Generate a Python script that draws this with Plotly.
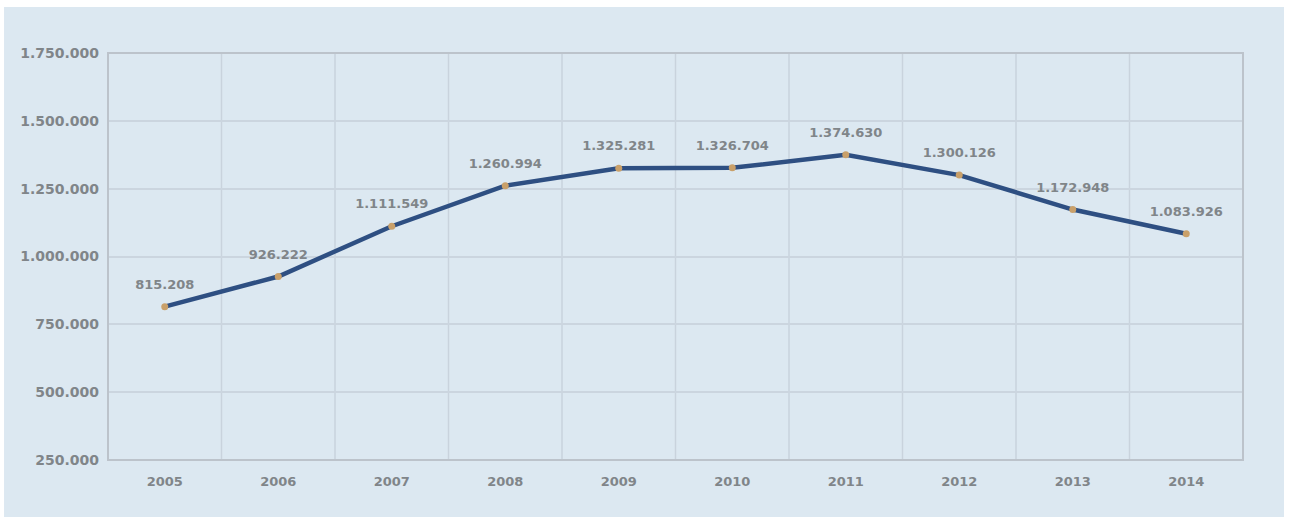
import plotly.graph_objects as go

# Yearly totals, 2005-2014
years = ["2005", "2006", "2007", "2008", "2009", "2010", "2011", "2012", "2013", "2014"]
values = [815208, 926222, 1111549, 1260994, 1325281, 1326704, 1374630, 1300126, 1172948, 1083926]
y_ticks = [250000, 500000, 750000, 1000000, 1250000, 1500000, 1750000]


def fmt(v):
    return f"{v:,}".replace(",", ".")


labels = [fmt(v) for v in values]
tick_text = [fmt(v) for v in y_ticks]

FONT = "DejaVu Sans, Verdana, sans-serif"
GREY = "#808589"
BG = "#dce8f1"

fig = go.Figure()
fig.add_trace(go.Scatter(
    x=years,
    y=values,
    mode="lines+markers",
    line=dict(color="#2e4f82", width=4.5),
    marker=dict(color="#c9a06a", size=7, line=dict(width=0)),
    hoverinfo="x+y",
))
# value labels floating above each point (large invisible markers push the text up)
fig.add_trace(go.Scatter(
    x=years,
    y=values,
    mode="markers+text",
    marker=dict(size=22, color="rgba(0,0,0,0)"),
    text=labels,
    textposition="top center",
    textfont=dict(family=FONT, size=13, color=GREY, weight="bold"),
    cliponaxis=False,
    hoverinfo="skip",
))

# light-blue panel behind the whole chart, with a thin white frame
fig.add_shape(
    type="rect", xref="paper", yref="paper",
    x0=-0.0916, x1=1.0361, y0=-0.140, y1=1.113,
    fillcolor=BG, line=dict(width=0), layer="below",
)
# plot-area frame
fig.add_shape(
    type="rect", xref="paper", yref="paper",
    x0=0, x1=1, y0=0, y1=1,
    fillcolor="rgba(0,0,0,0)", line=dict(color="#bcc3cb", width=2), layer="above",
)
# vertical separators between the years
for i in range(len(years) - 1):
    fig.add_shape(
        type="line", xref="x", yref="paper",
        x0=i + 0.5, x1=i + 0.5, y0=0, y1=1,
        line=dict(color="#c9d3dd", width=1.5), layer="below",
    )

fig.update_layout(
    width=1290,
    height=520,
    margin=dict(l=108, r=47, t=53, b=60),
    paper_bgcolor="white",
    plot_bgcolor="#dfeaf3",
    showlegend=False,
    font=dict(family=FONT, color=GREY),
    xaxis=dict(
        type="category",
        range=[-0.5, 9.5],
        showgrid=False,
        zeroline=False,
        showline=False,
        ticks="",
        tickfont=dict(family=FONT, size=13, color=GREY, weight="bold"),
        ticklabelstandoff=12,
    ),
    yaxis=dict(
        range=[250000, 1750000],
        tickvals=y_ticks,
        ticktext=tick_text,
        showgrid=True,
        gridcolor="#cbd5df",
        gridwidth=1.5,
        zeroline=False,
        showline=False,
        ticks="",
        tickfont=dict(family=FONT, size=14, color=GREY, weight="bold"),
        ticklabelstandoff=8,
    ),
)

fig.write_html("out.html")
